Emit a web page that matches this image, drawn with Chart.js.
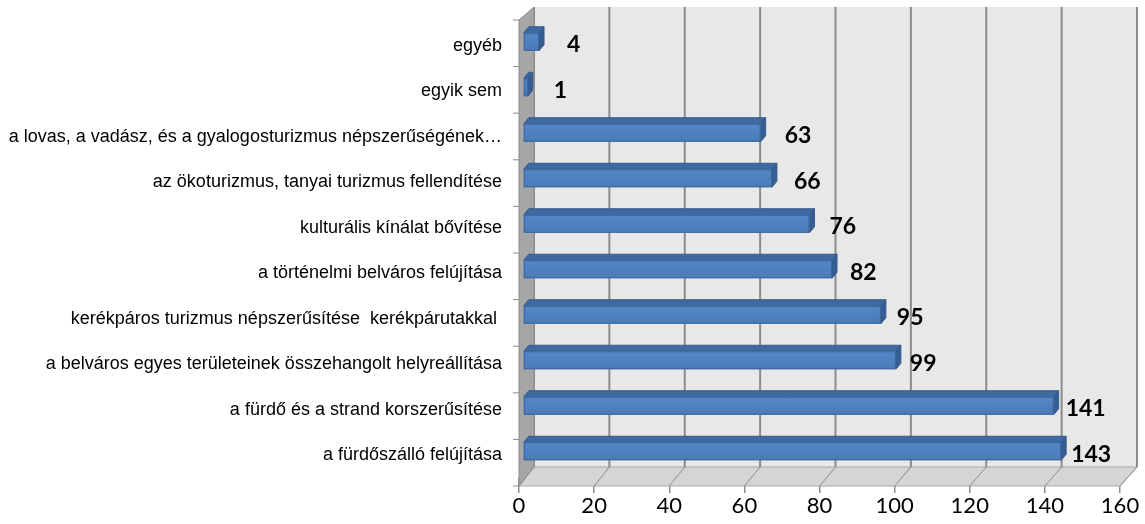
<!DOCTYPE html>
<html>
<head>
<meta charset="utf-8">
<script src="https://cdn.jsdelivr.net/npm/chart.js@4.4.1/dist/chart.umd.min.js"></script>
<style>
  html, body { margin: 0; padding: 0; background: #fff; }
  #wrap { width: 1145px; height: 524px; }
</style>
</head>
<body>
<div id="wrap"><canvas id="chart"></canvas></div>
<script>
const categories = [
  "egyéb",
  "egyik sem",
  "a lovas, a vadász, és a gyalogosturizmus népszerűségének…",
  "az ökoturizmus, tanyai turizmus fellendítése",
  "kulturális kínálat bővítése",
  "a történelmi belváros felújítása",
  "kerékpáros turizmus népszerűsítése  kerékpárutakkal ",
  "a belváros egyes területeinek összehangolt helyreállítása",
  "a fürdő és a strand korszerűsítése",
  "a fürdőszálló felújítása",
];
const values = [4, 1, 63, 66, 76, 82, 95, 99, 141, 143];
const xTicks = [0, 20, 40, 60, 80, 100, 120, 140, 160];

// 3d look: walls, floor and bar faces
const depth = { left: 15, right: 17, top: 16, bottom: 11 };
const barShift = { x: 4, y: -4, dx: 5, dy: 6 };

const backdrop = {
  id: "backdrop",
  beforeDatasetsDraw(chart) {
    const { ctx, chartArea: a, scales } = chart;
    const fTop = a.top - 3, fBot = a.bottom + 8;
    const bL = a.left + depth.left, bR = a.right + depth.right;
    const bT = a.top - depth.top, bB = a.bottom - depth.bottom;
    const backX = (v) => bL + ((scales.x.getPixelForValue(v) - a.left) * (bR - bL)) / (a.right - a.left);
    ctx.save();
    // back wall
    ctx.fillStyle = "#e8e8e8";
    ctx.fillRect(bL, bT, bR - bL, bB - bT);
    // floor
    ctx.beginPath();
    ctx.moveTo(a.left, fBot);
    ctx.lineTo(a.right, fBot);
    ctx.lineTo(bR, bB);
    ctx.lineTo(bL, bB);
    ctx.closePath();
    ctx.fillStyle = "#d5d5d5";
    ctx.fill();
    ctx.strokeStyle = "#a8a8a8";
    ctx.lineWidth = 1;
    ctx.stroke();
    // grid on back wall + floor
    ctx.strokeStyle = "#8c8c8c";
    xTicks.forEach((v) => {
      ctx.lineWidth = 2;
      ctx.beginPath();
      ctx.moveTo(backX(v), bT);
      ctx.lineTo(backX(v), bB);
      ctx.stroke();
      ctx.lineWidth = 1;
      ctx.beginPath();
      ctx.moveTo(backX(v), bB);
      ctx.lineTo(scales.x.getPixelForValue(v), fBot);
      ctx.stroke();
    });
    // left wall
    ctx.beginPath();
    ctx.moveTo(a.left, fTop);
    ctx.lineTo(bL, bT);
    ctx.lineTo(bL, bB);
    ctx.lineTo(a.left, fBot);
    ctx.closePath();
    ctx.fillStyle = "#a6a6a6";
    ctx.fill();
    ctx.strokeStyle = "#8c8c8c";
    ctx.stroke();
    // category ticks on wall edge
    ctx.beginPath();
    for (let k = 0; k <= categories.length; k++) {
      const y = fTop + (k * (fBot - fTop)) / categories.length;
      ctx.moveTo(a.left - 6, y);
      ctx.lineTo(a.left, y);
    }
    ctx.strokeStyle = "#8c8c8c";
    ctx.stroke();
    ctx.restore();
  },
  afterDatasetsDraw(chart) {
    const { ctx } = chart;
    const meta = chart.getDatasetMeta(0);
    ctx.save();
    meta.data.forEach((bar, i) => {
      const { x, y, base, height } = bar.getProps(["x", "y", "base", "height"], true);
      const l = base + barShift.x, r = x + barShift.x + 1;
      const t = y + barShift.y - height / 2, b = t + height;
      const { dx, dy } = barShift;
      // top face
      ctx.beginPath();
      ctx.moveTo(l, t);
      ctx.lineTo(l + dx, t - dy);
      ctx.lineTo(r + dx, t - dy);
      ctx.lineTo(r, t);
      ctx.closePath();
      ctx.fillStyle = "#3e6aa2";
      ctx.fill();
      ctx.strokeStyle = "#34598a";
      ctx.stroke();
      // right face
      ctx.beginPath();
      ctx.moveTo(r, t);
      ctx.lineTo(r + dx, t - dy);
      ctx.lineTo(r + dx, b - dy);
      ctx.lineTo(r, b);
      ctx.closePath();
      ctx.fillStyle = "#355e94";
      ctx.fill();
      ctx.stroke();
      // front face
      const g = ctx.createLinearGradient(0, t, 0, b);
      g.addColorStop(0, "#5387c6");
      g.addColorStop(1, "#4a7bb8");
      ctx.fillStyle = g;
      ctx.fillRect(l, t, r - l, height);
      ctx.strokeStyle = "#3a649a";
      ctx.strokeRect(l + 0.5, t + 0.5, r - l - 1, height - 1);
      // value label
      ctx.fillStyle = "#000";
      ctx.font = "bold 23px Lato";
      ctx.textAlign = "left";
      ctx.textBaseline = "middle";
      ctx.fillText(String(values[i]), x + 33 - 2 * i, y - 1);
    });
    ctx.restore();
  },
};

new Chart(document.getElementById("chart"), {
  type: "bar",
  data: {
    labels: categories,
    datasets: [
      {
        data: values,
        backgroundColor: "rgba(0,0,0,0)",
        borderWidth: 0,
        barThickness: 18,
      },
    ],
  },
  options: {
    indexAxis: "y",
    responsive: true,
    maintainAspectRatio: false,
    animation: false,
    layout: { padding: { top: 23, right: 25, bottom: 0, left: 0 } },
    scales: {
      x: {
        min: 0,
        max: 160,
        afterBuildTicks: (s) => {
          s.ticks = xTicks.map((v) => ({ value: v }));
        },
        afterFit: (s) => {
          s.height = 46;
        },
        grid: {
          drawOnChartArea: false,
          drawTicks: true,
          tickLength: 15,
          tickColor: "#8c8c8c",
          lineWidth: 1.5,
        },
        border: { display: false },
        ticks: {
          color: "#000",
          font: { family: "Lato", size: 22 },
          padding: 0,
        },
      },
      y: {
        afterFit: (s) => {
          s.width = 519;
        },
        grid: { display: false },
        border: { display: false },
        ticks: {
          autoSkip: false,
          color: "#000",
          font: { family: "Liberation Sans", size: 18 },
          padding: 9,
        },
      },
    },
    plugins: {
      legend: { display: false },
      tooltip: { enabled: false },
    },
  },
  plugins: [backdrop],
});
</script>
</body>
</html>
